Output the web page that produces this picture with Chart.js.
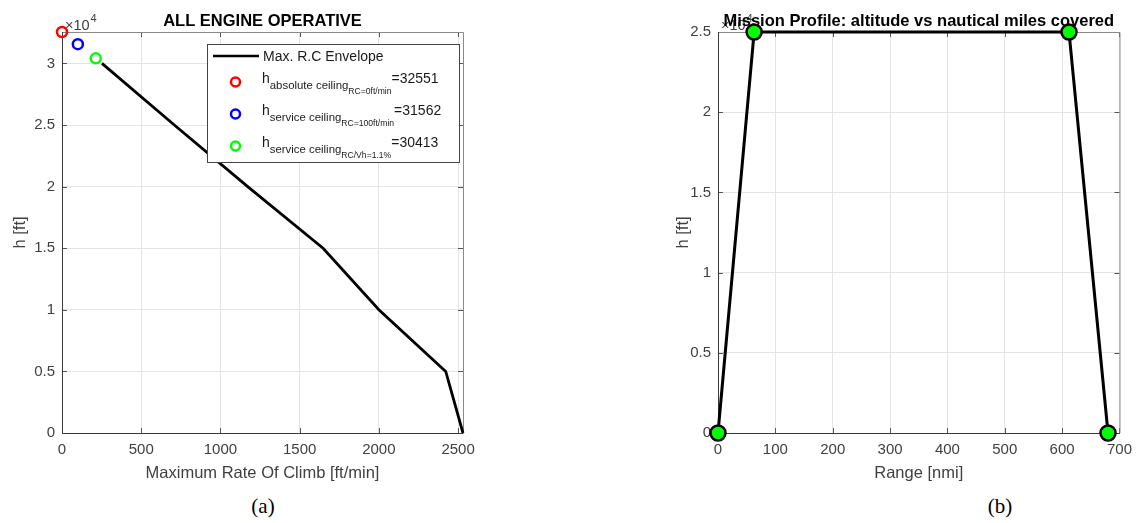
<!DOCTYPE html>
<html>
<head>
<meta charset="utf-8">
<script src="https://cdn.jsdelivr.net/npm/chart.js@4.4.1/dist/chart.umd.min.js"></script>
<style>
  body { margin: 0; background: #fff; width: 1140px; height: 523px; position: relative; overflow: hidden; }
  .panel { position: absolute; top: 0; }
  .caption { position: absolute; top: 494px; font-family: "Liberation Serif", "DejaVu Serif", serif; font-size: 21px; color: #000; transform: translateX(-50%); }
</style>
</head>
<body>
<div class="panel" style="left:0;width:525px;height:490px"><canvas id="climbChart" width="525" height="490"></canvas></div>
<div class="panel" style="left:660px;width:480px;height:490px"><canvas id="missionChart" width="480" height="490"></canvas></div>
<div class="caption" style="left:263px">(a)</div>
<div class="caption" style="left:1000px">(b)</div>
<script>
// (a) max rate of climb envelope
const rcEnvelope = [252, 709, 1172, 1648, 2000, 2422, 2531];          // ft/min
const hEnvelope = [30000, 25000, 20000, 15000, 10000, 5000, 0];      // ft
const ceilingNames = ['absolute ceiling', 'service ceiling', 'service ceiling'];
const ceilingConds = ['RC=0ft/min', 'RC=100ft/min', 'RC/Vh=1.1%'];
const ceilingRC = [0, 100, 213];
const ceilingH = [32551, 31562, 30413];
const ceilingColors = ['#ff0000', '#0000ff', '#00ff00'];
const rcMax = 2531;
const hMaxA = 32551;
const rcTicks = [0, 500, 1000, 1500, 2000, 2500];
const hTicksA = [0, 5000, 10000, 15000, 20000, 25000, 30000];

// (b) mission profile
const rangeNmi = [0, 63, 612, 680];
const altitudeFt = [0, 25000, 25000, 0];
const rangeTicks = [0, 100, 200, 300, 400, 500, 600, 700];
const hTicksB = [0, 5000, 10000, 15000, 20000, 25000];

const FONT = '"Liberation Sans", Arial, sans-serif';
const TXT = '#404040';

Chart.defaults.font.family = FONT;
Chart.defaults.color = TXT;

// box, inward tick marks, title and x10^4 exponent, drawn like the matlab axes
const axesFrame = {
    id: 'axesFrame',
    beforeDatasetsDraw(chart, args, opts) {
        const {ctx, chartArea: a, scales} = chart;
        ctx.save();
        ctx.lineWidth = 1;
        ctx.strokeStyle = '#555';
        ctx.beginPath();
        scales.x.ticks.forEach(t => {
            const px = Math.round(scales.x.getPixelForValue(t.value)) + 0.5;
            ctx.moveTo(px, a.bottom); ctx.lineTo(px, a.bottom - 5);
            ctx.moveTo(px, a.top); ctx.lineTo(px, a.top + 5);
        });
        scales.y.ticks.forEach(t => {
            const py = Math.round(scales.y.getPixelForValue(t.value)) + 0.5;
            ctx.moveTo(a.left, py); ctx.lineTo(a.left + 5, py);
            ctx.moveTo(a.right, py); ctx.lineTo(a.right - 5, py);
        });
        ctx.stroke();
        ctx.strokeStyle = '#8a8a8a';
        ctx.beginPath();
        ctx.moveTo(a.left, a.top + 0.5); ctx.lineTo(a.right + 0.5, a.top + 0.5);
        ctx.lineTo(a.right + 0.5, a.bottom);
        ctx.stroke();
        ctx.strokeStyle = '#3a3a3a';
        ctx.beginPath();
        ctx.moveTo(a.left + 0.5, a.top); ctx.lineTo(a.left + 0.5, a.bottom + 0.5);
        ctx.lineTo(a.right + 0.5, a.bottom + 0.5);
        ctx.stroke();
        ctx.restore();
    },
    afterDraw(chart, args, opts) {
        const {ctx, chartArea: a} = chart;
        ctx.save();
        ctx.fillStyle = TXT;
        ctx.textBaseline = 'alphabetic';
        ctx.textAlign = 'left';
        ctx.font = '14.5px ' + FONT;
        ctx.fillText('\u00d710', a.left + 3, a.top - 2);
        const w = ctx.measureText('\u00d710').width;
        ctx.font = '11px ' + FONT;
        ctx.fillText('4', a.left + 4 + w, a.top - 10);
        ctx.fillStyle = '#000';
        ctx.textAlign = 'center';
        ctx.font = 'bold 16.5px ' + FONT;
        ctx.fillText(opts.title, (a.left + a.right) / 2, a.top - 6);
        ctx.restore();
    }
};

// legend with TeX-like subscripts for panel (a)
const climbLegend = {
    id: 'climbLegend',
    afterDraw(chart) {
        const ctx = chart.ctx;
        const bx = 207.5, by = 44.5, bw = 252, bh = 118;
        ctx.save();
        ctx.fillStyle = '#fff';
        ctx.fillRect(bx, by, bw, bh);
        ctx.strokeStyle = '#444';
        ctx.lineWidth = 1;
        ctx.strokeRect(bx, by, bw, bh);

        ctx.strokeStyle = '#000';
        ctx.lineWidth = 2.5;
        ctx.beginPath();
        ctx.moveTo(213, 56); ctx.lineTo(259, 56);
        ctx.stroke();
        ctx.fillStyle = '#1a1a1a';
        ctx.textBaseline = 'middle';
        ctx.font = '14px ' + FONT;
        ctx.fillText('Max. R.C Envelope', 263, 57);

        drawCeilingRows(ctx, [82, 114, 146]);
        ctx.restore();
    }
};

function drawCeilingRows(ctx, rowY) {
    rowY.forEach((y, i) => {
        ctx.lineWidth = 2.5;
        ctx.strokeStyle = ceilingColors[i];
        ctx.beginPath();
        ctx.arc(235.5, y, 4.5, 0, Math.PI * 2);
        ctx.stroke();

        ctx.fillStyle = '#1a1a1a';
        ctx.textBaseline = 'alphabetic';
        let x = 262;
        const base = y + 1;
        ctx.font = '14px ' + FONT;
        ctx.fillText('h', x, base);
        x += ctx.measureText('h').width;
        ctx.font = '11.4px ' + FONT;
        ctx.fillText(ceilingNames[i], x, base + 6);
        x += ctx.measureText(ceilingNames[i]).width;
        ctx.font = '8.6px ' + FONT;
        ctx.fillText(ceilingConds[i], x, base + 11);
        x += ctx.measureText(ceilingConds[i]).width;
        ctx.font = '14px ' + FONT;
        ctx.fillText('=' + ceilingH[i], x, base);
    });
}

function axisOpts(min, max, tickVals, label, fmt, titlePad, width, isY) {
    return {
        type: 'linear',
        min: min,
        max: max,
        border: { display: false },
        grid: { color: '#e4e4e4', lineWidth: 1, drawTicks: false },
        ticks: {
            padding: isY ? 7 : 8,
            color: TXT,
            font: { size: 15 },
            maxRotation: 0,
            autoSkip: false,
            callback: fmt
        },
        title: {
            display: true,
            text: label,
            color: TXT,
            font: { size: 16.5 },
            padding: isY ? { top: titlePad, bottom: 0 } : { top: 0, bottom: titlePad }
        },
        afterBuildTicks(scale) {
            scale.ticks = tickVals.map(v => ({ value: v }));
        },
        afterFit(scale) {
            if (isY) scale.width = width; else scale.height = width;
        }
    };
}

const toE4 = v => (v / 10000).toString();

new Chart(document.getElementById('climbChart'), {
    type: 'scatter',
    data: {
        datasets: [
            {
                type: 'line',
                data: rcEnvelope.map((rc, i) => ({ x: rc, y: hEnvelope[i] })),
                borderColor: '#000',
                borderWidth: 2.8,
                pointRadius: 0,
                fill: false,
                tension: 0,
                clip: false
            }
        ].concat(ceilingRC.map((rc, i) => ({
            data: [{ x: rc, y: ceilingH[i] }],
            pointRadius: 5,
            pointBorderWidth: 2.5,
            pointBorderColor: ceilingColors[i],
            pointBackgroundColor: 'rgba(0,0,0,0)',
            clip: false
        })))
    },
    options: {
        responsive: false,
        animation: false,
        layout: { padding: { top: 32, right: 62, left: 0, bottom: 0 } },
        scales: {
            x: axisOpts(0, rcMax, rcTicks, 'Maximum Rate Of Climb [ft/min]', v => v, 7, 57, false),
            y: axisOpts(0, hMaxA, hTicksA, 'h [ft]', toE4, 11, 62, true)
        },
        plugins: {
            legend: { display: false },
            tooltip: { enabled: false },
            axesFrame: { title: 'ALL ENGINE OPERATIVE' }
        }
    },
    plugins: [axesFrame, climbLegend]
});

new Chart(document.getElementById('missionChart'), {
    type: 'line',
    data: {
        datasets: [{
            data: rangeNmi.map((r, i) => ({ x: r, y: altitudeFt[i] })),
            borderColor: '#000',
            borderWidth: 3,
            pointRadius: 7.5,
            pointBorderWidth: 2.5,
            pointBorderColor: '#000',
            pointBackgroundColor: '#00ff00',
            tension: 0,
            clip: false
        }]
    },
    options: {
        responsive: false,
        animation: false,
        layout: { padding: { top: 32, right: 19, left: 0, bottom: 0 } },
        scales: {
            x: axisOpts(0, 700, rangeTicks, 'Range [nmi]', v => v, 7, 57, false),
            y: axisOpts(0, 25000, hTicksB, 'h [ft]', toE4, 14, 58, true)
        },
        plugins: {
            legend: { display: false },
            tooltip: { enabled: false },
            axesFrame: { title: 'Mission Profile: altitude vs nautical miles covered' }
        }
    },
    plugins: [axesFrame]
});
</script>
</body>
</html>
